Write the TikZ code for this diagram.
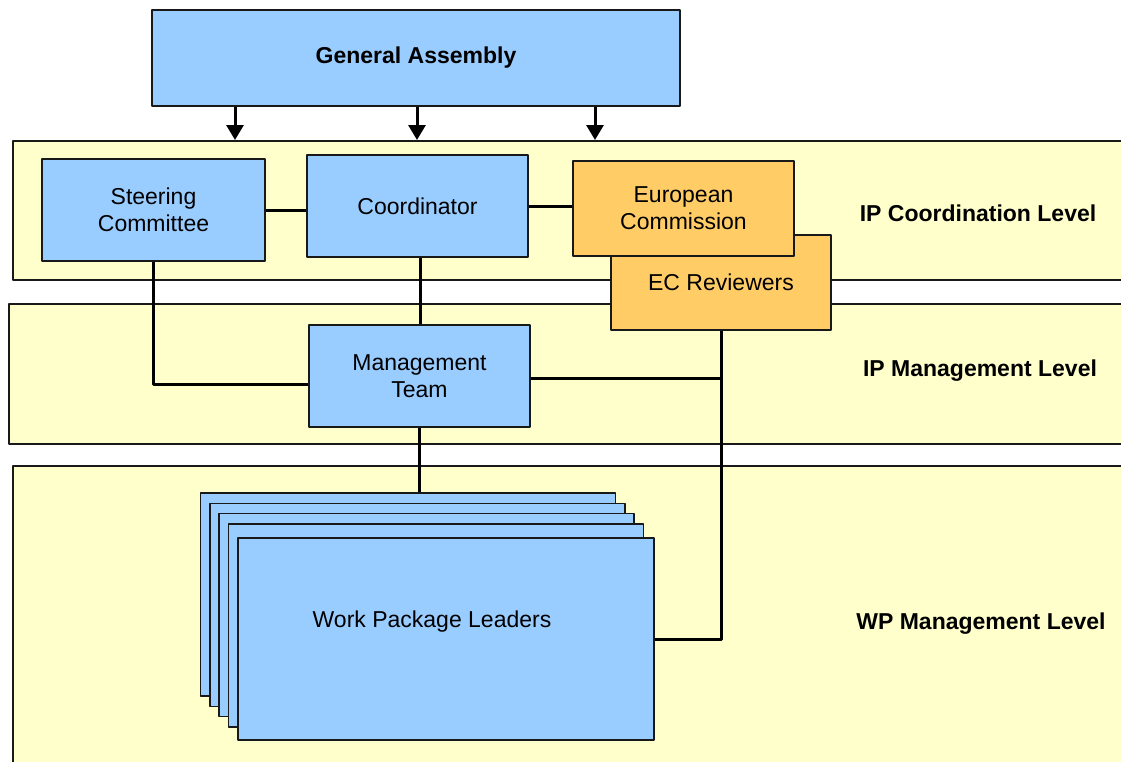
\documentclass[tikz,border=0pt]{standalone}
\usepackage{fontspec}
\setmainfont{Liberation Sans}
\usetikzlibrary{arrows.meta,positioning}
\definecolor{boxblue}{HTML}{99CCFF}
\definecolor{boxorange}{HTML}{FFCC66}
\definecolor{bandyellow}{HTML}{FFFFCC}

\begin{document}
\begin{tikzpicture}[x=1pt, y=-1pt, line join=round,
    band/.style={draw=black!90, fill=bandyellow, line width=1.6pt,
        minimum width=1130pt, anchor=north west, inner sep=0pt},
    unit/.style={draw=black!90, fill=boxblue, line width=1.4pt, inner sep=0pt,
        align=center, minimum width=221pt, minimum height=102pt,
        font=\fontsize{23}{27}\selectfont},
    ecunit/.style={unit, fill=boxorange, minimum height=95pt},
    link/.style={line width=3pt},
    feed/.style={line width=3pt, -{Triangle[width=17pt,length=15pt]}},
    level/.style={font=\bfseries\fontsize{23}{27}\selectfont}]
    \useasboundingbox (0,0) rectangle (1121,761);
    \clip (0,0) rectangle (1121,761);

    % Level bands
    \node[band, minimum height=139pt] (bandcoord) at (12,140) {};
    \node[band, minimum height=140pt] (bandmgmt)  at (8,303)  {};
    \node[band, minimum height=320pt] (bandwp)    at (12,465) {};

    % Band titles
    \node[level] (lvcoord) at (978,213) {IP Coordination Level};
    \node[level] (lvmgmt)  at (980,371) {IP Management Level};
    \node[level] (lvwp)    at (981,624) {WP Management Level};

    % Top body
    \node[unit, minimum width=528pt, minimum height=96pt,
          font=\bfseries\fontsize{23}{27}\selectfont] (ga) at (416,58) {General Assembly};

    % Coordination level
    \node[unit, minimum width=223pt] (steer) at (153.5,210) {Steering\\Committee};
    \node[unit] (coord) at (417.5,206) {Coordinator};
    \node[ecunit, minimum width=220pt] (ecrev) at (721,282.5) {EC Reviewers};
    \node[ecunit] (ec) at (683.5,208.5) {European\\Commission};

    % Management level
    \node[unit] (mgmt) at (419.5,376) {Management\\Team};

    % Work package stack (back to front)
    \foreach \n/\cx/\cy in {1/408/594.5, 2/417.5/605, 3/426.5/615, 4/436/625.5}
        \node[unit, minimum width=415pt, minimum height=203pt] (wp\n) at (\cx,\cy) {};
    \node[unit, minimum width=416pt, minimum height=202pt,
          label={[font=\fontsize{23}{27}\selectfont, xshift=-14pt, yshift=17pt]center:Work Package Leaders}]
          (wp5) at (446,639) {};

    % Arrows from the General Assembly
    \foreach \dx in {-181,1,179}
        \draw[feed] ([xshift=\dx pt]ga.south) -- ([xshift=\dx pt]ga.south |- bandcoord.north);

    % Connectors
    \draw[link] (steer.east) -- (steer.east -| coord.west);
    \draw[link] (coord.east) -- (coord.east -| ec.west);
    \draw[link] (steer.south) |- ([yshift=-8pt]mgmt.west);
    \draw[link] ([xshift=3pt]coord.south) -- ([xshift=3pt]coord.south |- mgmt.north);
    \draw[link] ([yshift=-2pt]mgmt.east) -| (ecrev.south);
    \draw[link] (ecrev.south) |- (wp5.east);
    \draw[link] (mgmt.south) -- (mgmt.south |- wp1.north);
\end{tikzpicture}
\end{document}
